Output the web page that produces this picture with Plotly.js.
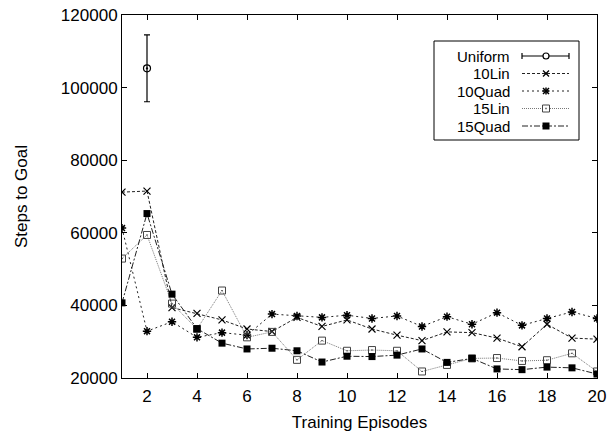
<!DOCTYPE html>
<html>
<head>
<meta charset="utf-8">
<script src="https://cdn.plot.ly/plotly-3.0.1.min.js"></script>
<style>html,body{margin:0;padding:0;background:#fff;}#chart{width:616px;height:432px;}</style>
</head>
<body>
<div id="chart"></div>
<script>
const episodes = [1,2,3,4,5,6,7,8,9,10,11,12,13,14,15,16,17,18,19,20];
const uniformX = [2];
const uniformY = [105300];
const uniformErr = [9200];
const lin10 = [71200,71500,39400,37800,36000,33500,32800,36700,34200,36000,33500,31800,30300,32700,32500,31000,28600,34800,31000,30700];
const quad10 = [61300,32900,35500,31200,32500,31800,37600,37100,36700,37300,36400,37100,34200,36900,34800,38000,34500,36400,38200,36400];
const lin15 = [52900,59400,40500,33500,44100,31200,32700,25000,30300,27500,27700,27500,21800,23600,25400,25500,24700,24900,26800,21800];
const quad15 = [40700,65300,43100,33600,29600,28000,28200,27500,24400,26000,25900,26300,28000,24300,25400,22500,22300,23000,22800,21100];
const seriesNames = ["Uniform","10Lin","10Quad","15Lin","15Quad"];
const xTicks = [2,4,6,8,10,12,14,16,18,20];
const yTicks = [20000,40000,60000,80000,100000,120000];

const FONT = "Liberation Sans, Arial, Helvetica, sans-serif";
const FS = 17;
const LFS = 15;
const L = 122, R = 19, T = 15, B = 54, W = 616, H = 432;
const PW = W - L - R, PH = H - T - B;
const px = x => (x - L) / PW;
const py = y => (H - B - y) / PH;

const traces = [
  {x: uniformX, y: uniformY, name: seriesNames[0], mode: 'markers',
   error_y: {type: 'data', array: uniformErr, visible: true, color: '#000', thickness: 1.2, width: 3},
   marker: {symbol: 'circle-open-dot', size: 7, color: '#000', line: {width: 1.2, color: '#000'}}},
  {x: episodes, y: lin10, name: seriesNames[1], mode: 'lines+markers',
   line: {color: '#222', width: 1, dash: '3px,2px'},
   marker: {symbol: 'x-thin-open', size: 7, color: '#000', line: {width: 1.2, color: '#000'}}},
  {x: episodes, y: quad10, name: seriesNames[2], mode: 'lines+markers',
   line: {color: '#222', width: 1, dash: '2px,3px'},
   marker: {symbol: 'asterisk-open', size: 7, color: '#000', line: {width: 1.5, color: '#000'}}},
  {x: episodes, y: lin15, name: seriesNames[3], mode: 'lines+markers',
   line: {color: '#777', width: 1, dash: '1px,1px'},
   marker: {symbol: 'square-open-dot', size: 7, color: '#444', line: {width: 1, color: '#444'}}},
  {x: episodes, y: quad15, name: seriesNames[4], mode: 'lines+markers',
   line: {color: '#222', width: 1, dash: '6px,2px,2px,2px'},
   marker: {symbol: 'square', size: 7, color: '#000', line: {width: 0}}}
];

// custom gnuplot-style legend (text left, sample right)
const shapes = [];
const annotations = [];
shapes.push({type: 'rect', xref: 'paper', yref: 'paper', x0: px(434), x1: px(579), y0: py(41), y1: py(140),
  line: {color: '#000', width: 1}, fillcolor: 'rgba(0,0,0,0)'});
const rowsY = [56, 73.5, 91, 108.5, 126];
const lineStyles = [
  {color: '#000', width: 1.2, dash: 'solid'},
  {color: '#222', width: 1, dash: '3px,2px'},
  {color: '#222', width: 1, dash: '2px,3px'},
  {color: '#777', width: 1, dash: '1px,1px'},
  {color: '#222', width: 1, dash: '6px,2px,2px,2px'}
];
const sx0 = 522, sx1 = 569, mx = 546;
const seg = (x0, y0, x1, y1, ln) => shapes.push({type: 'line', xref: 'paper', yref: 'paper',
  x0: px(x0), x1: px(x1), y0: py(y0), y1: py(y1), line: ln});
seriesNames.forEach((n, i) => {
  const y = rowsY[i];
  annotations.push({xref: 'paper', yref: 'paper', x: px(511), y: py(y), text: n, showarrow: false,
    xanchor: 'right', yanchor: 'middle', borderpad: 0,
    font: {family: FONT, size: LFS, color: '#000'}});
  seg(sx0, y, sx1, y, lineStyles[i]);
  const ln = {color: '#000', width: 1.2};
  if (i === 0) {
    seg(sx0, y - 3, sx0, y + 3, ln);
    seg(sx1, y - 3, sx1, y + 3, ln);
    shapes.push({type: 'circle', xref: 'paper', yref: 'paper', x0: px(mx - 3), x1: px(mx + 3), y0: py(y - 3), y1: py(y + 3), line: ln, fillcolor: '#fff'});
  } else if (i === 1) {
    seg(mx - 3, y - 3, mx + 3, y + 3, ln);
    seg(mx - 3, y + 3, mx + 3, y - 3, ln);
  } else if (i === 2) {
    const l2 = {color: '#000', width: 1.5};
    seg(mx - 3, y - 3, mx + 3, y + 3, l2);
    seg(mx - 3, y + 3, mx + 3, y - 3, l2);
    seg(mx - 3.5, y, mx + 3.5, y, l2);
    seg(mx, y - 3.5, mx, y + 3.5, l2);
  } else if (i === 3) {
    shapes.push({type: 'rect', xref: 'paper', yref: 'paper', x0: px(mx - 3.5), x1: px(mx + 3.5), y0: py(y - 3.5), y1: py(y + 3.5), line: {color: '#444', width: 1}, fillcolor: '#fff'});
    shapes.push({type: 'rect', xref: 'paper', yref: 'paper', x0: px(mx - 0.7), x1: px(mx + 0.7), y0: py(y - 0.7), y1: py(y + 0.7), line: {width: 0}, fillcolor: '#444'});
  } else {
    shapes.push({type: 'rect', xref: 'paper', yref: 'paper', x0: px(mx - 3.5), x1: px(mx + 3.5), y0: py(y - 3.5), y1: py(y + 3.5), line: {width: 0}, fillcolor: '#000'});
  }
});

const layout = {
  width: W, height: H,
  margin: {l: L, r: R, t: T, b: B},
  paper_bgcolor: '#fff', plot_bgcolor: '#fff',
  showlegend: false,
  font: {family: FONT, size: FS, color: '#000'},
  xaxis: {
    range: [1, 20], tickvals: xTicks, ticktext: xTicks.map(String),
    ticks: 'inside', ticklen: 5, tickcolor: '#000', tickwidth: 1,
    showline: true, linecolor: '#000', linewidth: 1, mirror: 'allticks',
    showgrid: false, zeroline: false, ticklabelstandoff: 3,
    tickfont: {family: FONT, size: FS, color: '#000'},
    title: {text: 'Training Episodes', font: {family: FONT, size: FS, color: '#000'}, standoff: 15}
  },
  yaxis: {
    range: [20000, 120000], tickvals: yTicks, ticktext: yTicks.map(String),
    ticks: 'inside', ticklen: 5, tickcolor: '#000', tickwidth: 1,
    showline: true, linecolor: '#000', linewidth: 1, mirror: 'allticks',
    showgrid: false, zeroline: false,
    tickfont: {family: FONT, size: FS, color: '#000'},
    title: {text: 'Steps to Goal', font: {family: FONT, size: FS, color: '#000'}, standoff: 28}
  },
  shapes: shapes,
  annotations: annotations
};

Plotly.newPlot('chart', traces, layout, {displayModeBar: false, staticPlot: true});
</script>
</body>
</html>
